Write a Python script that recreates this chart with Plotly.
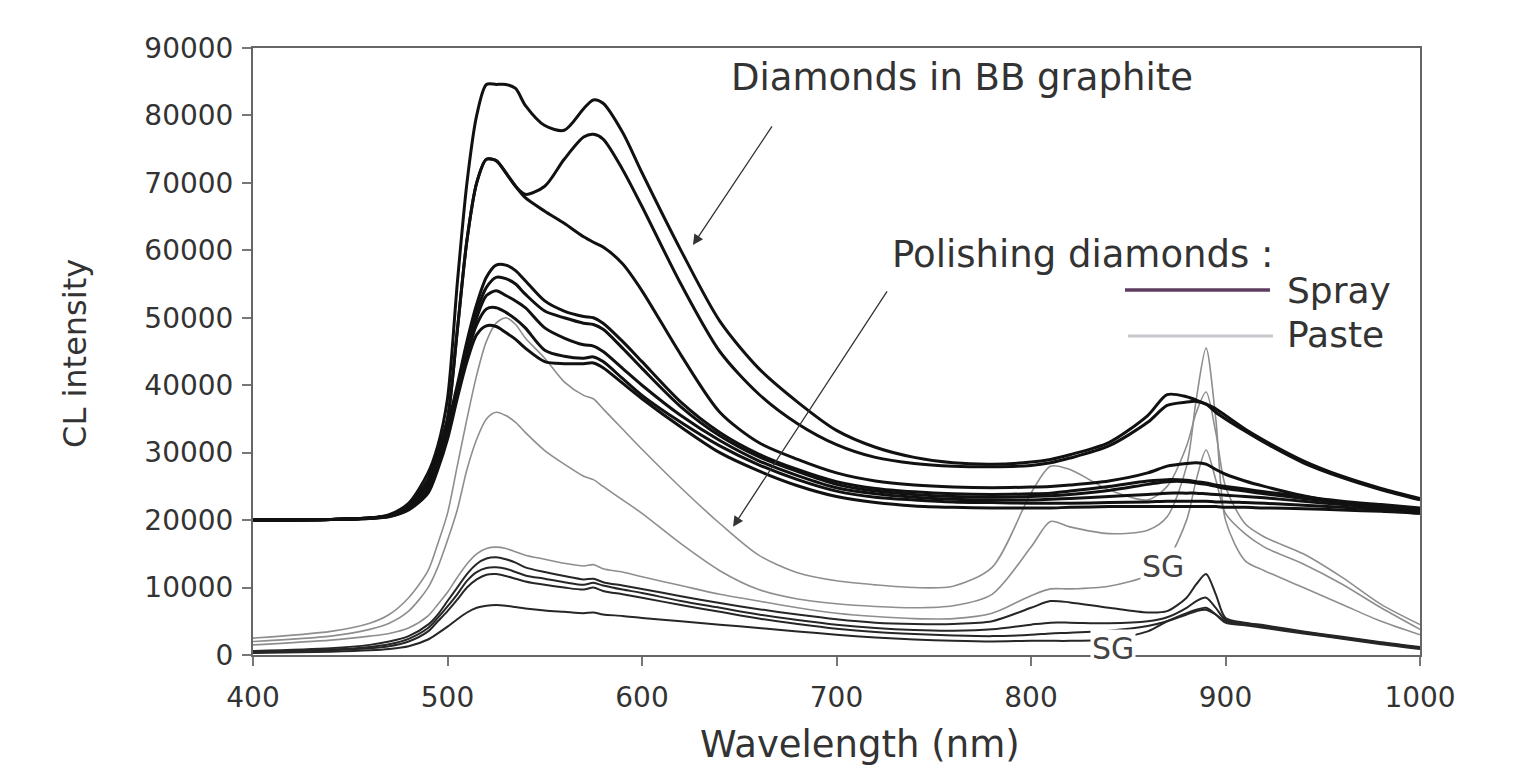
import plotly.graph_objects as go

# ---------------- data ----------------
wavelength = [400, 440, 460, 470, 480, 490, 495, 500, 505, 510,
              515, 520, 525, 530, 535, 540, 550, 560, 570, 575,
              580, 590, 600, 620, 640, 660, 680, 700, 720, 740,
              760, 780, 800, 810, 820, 840, 860, 870, 880, 885,
              890, 895, 900, 910, 920, 940, 960, 980, 1000]

# Diamonds in BB graphite (offset baseline ~20000)
bb_a = [20000, 20100, 20300, 20800, 22500, 27000, 31000, 38000, 55000, 70000,
        80000, 84600, 84600, 84600, 84000, 81500, 78500, 77800, 81000, 82300,
        81800, 77500, 71500, 60000, 49500, 42500, 37500, 33300, 30800, 29300,
        28500, 28300, 28600, 29000, 29700, 31500, 35500, 38600, 38300, 37800,
        37200, 36500, 35500, 33500, 31800, 28800, 26500, 24700, 23200]
bb_b = [20000, 20100, 20300, 20700, 22000, 26000, 30000, 35000, 48000, 61500,
        70000, 73500, 73300, 71500, 69500, 68300, 69500, 73500, 76800, 77200,
        76500, 72000, 66500, 55000, 45000, 38700, 34300, 31200, 29300, 28400,
        28000, 27900, 28100, 28500, 29200, 31000, 34500, 37000, 37500, 37600,
        37200, 36000, 35000, 33200, 31500, 28500, 26300, 24500, 23000]
bb_c = [20000, 20100, 20300, 20700, 22000, 26000, 30000, 35000, 48000, 61500,
        70000, 73500, 73300, 71500, 69500, 67800, 65800, 64000, 62000, 61200,
        60500, 58000, 54000, 44500, 36000, 31500, 29000, 27000, 25800, 25200,
        24900, 24800, 24900, 25000, 25200, 25800, 27000, 28000, 28400, 28500,
        28300, 27500, 26800, 25800, 25000, 23600, 22500, 21700, 21000]
bb_d1 = [20000, 20100, 20300, 20700, 22200, 26000, 29500, 34000, 40000, 46500,
         52000, 56000, 57800, 57800, 57000, 55500, 52500, 51000, 50200, 50000,
         49200, 46500, 43500, 37500, 33000, 29800, 27500, 25700, 24700, 24200,
         23900, 23800, 23900, 24000, 24300, 25000, 25800, 26000, 25900, 25700,
         25500, 25200, 25000, 24600, 24200, 23500, 22800, 22300, 21800]
bb_d2 = [20000, 20100, 20300, 20650, 22000, 25500, 29000, 33500, 39500, 46000,
         51000, 54500, 56000, 55800, 55000, 53500, 51000, 50000, 49200, 49000,
         48300, 45500, 42500, 36800, 32500, 29400, 27200, 25300, 24300, 23800,
         23500, 23400, 23500, 23600, 23800, 24400, 25300, 25700, 25700, 25500,
         25300, 25000, 24700, 24300, 23900, 23200, 22600, 22100, 21600]
bb_d3 = [20000, 20100, 20300, 20600, 21800, 25000, 28500, 33000, 39000, 45000,
         50000, 53300, 54000, 53300, 52500, 51500, 48500, 47000, 46000, 45800,
         45000, 42500, 40000, 35500, 31800, 28800, 26600, 24800, 23900, 23400,
         23100, 23000, 23000, 23100, 23200, 23500, 23800, 24000, 24000, 24000,
         23900, 23800, 23700, 23500, 23300, 22800, 22300, 21900, 21400]
bb_d4 = [20000, 20100, 20250, 20550, 21600, 24500, 28000, 32500, 38500, 44500,
         49000, 51300, 51500, 50800, 49800, 48500, 45200, 44300, 44000, 44200,
         43500, 41000, 38500, 34500, 31000, 28200, 26000, 24300, 23400, 23000,
         22700, 22600, 22500, 22500, 22500, 22600, 22700, 22800, 22800, 22800,
         22800, 22700, 22700, 22600, 22500, 22200, 21900, 21600, 21200]
bb_d5 = [20000, 20100, 20250, 20500, 21500, 24000, 27500, 32000, 38000, 43500,
         47500, 48800, 48700, 47800, 46800, 45500, 43500, 43200, 43200, 43300,
         42600, 40300, 38000, 33800, 30000, 27300, 25100, 23500, 22600, 22100,
         21900, 21800, 21800, 21800, 21900, 22000, 22000, 22000, 22000, 22000,
         22000, 22000, 21900, 21900, 21800, 21700, 21500, 21300, 21000]

# Polishing diamonds - paste (grey)
paste_1 = [2500, 3500, 4700, 6000, 8500, 12500, 16500, 21000, 28000, 35000,
           41500, 46500, 49200, 50000, 49000, 47000, 44000, 40500, 38500, 38000,
           36500, 33500, 30500, 24800, 19500, 14800, 12200, 11000, 10400, 10000,
           10200, 13000, 24000, 28000, 27500, 24500, 23000, 25000, 31000, 36000,
           39000, 33000, 25000, 19500, 17500, 15000, 11500, 7500, 4500]
paste_2 = [2000, 2800, 3800, 4700, 6500, 10000, 13000, 17000, 21500, 27500,
           32000, 35000, 36000, 35500, 34500, 33000, 30300, 28300, 26500, 26000,
           25000, 23000, 21000, 16500, 12500, 9700, 8300, 7600, 7200, 7000,
           7300, 9000, 16000, 19800, 19000, 18000, 18500, 20500, 28000, 38000,
           45500, 35000, 20000, 14000, 12500, 10000, 7500, 5000, 3000]
paste_3 = [1500, 2200, 2800, 3200, 4000, 5800, 7500, 9300, 11500, 13500,
           15000, 15800, 16000, 15800, 15300, 14800, 14200, 13600, 13200, 13400,
           12800, 12300, 11600, 10300, 9000, 8000, 7000, 6200, 5700, 5400,
           5400, 6200, 8800, 9800, 9800, 10200, 11800, 14000, 20000, 26000,
           30400, 26000, 21000, 18000, 16000, 13500, 10500, 7000, 3800]

# Polishing diamonds - spray (dark)
spray_1 = [600, 1000, 1500, 2000, 2800, 4500, 6000, 8000, 10000, 12000,
           13500, 14300, 14500, 14200, 13700, 13000, 12300, 11700, 11200, 11300,
           10800, 10300, 9800, 8700, 7700, 6800, 6000, 5300, 4800, 4600,
           4600, 5000, 7000, 8000, 7800, 7000, 6300, 6500, 8500, 10500,
           12000, 9000, 5500, 4800, 4400, 3500, 2700, 1900, 1200]
spray_2 = [500, 800, 1200, 1600, 2400, 4000, 5500, 7200, 9000, 11000,
           12300, 12900, 13000, 12800, 12300, 11800, 11300, 10800, 10400, 10700,
           10300, 9700, 9200, 8000, 7000, 6000, 5200, 4500, 4000, 3700,
           3600, 3800, 4500, 4800, 4800, 4700, 5000, 5600, 7000, 8000,
           8500, 7000, 5200, 4700, 4300, 3400, 2600, 1800, 1100]
spray_3 = [400, 700, 1000, 1300, 2000, 3500, 5000, 6500, 8200, 10000,
           11200, 11900, 12000, 11700, 11300, 10900, 10400, 10000, 9700, 10000,
           9500, 9000, 8500, 7400, 6400, 5400, 4600, 3900, 3400, 3100,
           2900, 2800, 3000, 3200, 3300, 3600, 4300, 5000, 6000, 6500,
           6700, 6000, 5000, 4600, 4200, 3300, 2500, 1700, 1000]
spray_4 = [300, 500, 700, 900, 1300, 2300, 3200, 4200, 5300, 6300,
           7000, 7300, 7400, 7300, 7100, 6900, 6600, 6400, 6200, 6300,
           6000, 5800, 5500, 5000, 4500, 4000, 3500, 3000, 2600, 2300,
           2100, 2000, 2100, 2100, 2100, 2300, 3500, 5000, 6200, 6700,
           7000, 6000, 4800, 4400, 4000, 3200, 2400, 1600, 900]

x_ticks = [400, 500, 600, 700, 800, 900, 1000]
y_ticks = [0, 10000, 20000, 30000, 40000, 50000, 60000, 70000, 80000, 90000]
y_tick_labels = [str(v) for v in y_ticks]

# ---------------- figure ----------------
FONT = "DejaVu Sans, Liberation Sans, Arial, sans-serif"
TXT = "#333333"

fig = go.Figure()

paste = [paste_1, paste_2, paste_3]
spray = [spray_1, spray_2, spray_3, spray_4]
bb = [bb_a, bb_b, bb_c, bb_d1, bb_d2, bb_d3, bb_d4, bb_d5]

for s in paste:
    fig.add_trace(go.Scatter(x=wavelength, y=s, mode="lines",
                             line=dict(color="#8e8e8e", width=1.6, shape="spline", smoothing=0.8),
                             showlegend=False, hoverinfo="skip"))
for s in spray:
    fig.add_trace(go.Scatter(x=wavelength, y=s, mode="lines",
                             line=dict(color="#262626", width=2, shape="spline", smoothing=0.8),
                             showlegend=False, hoverinfo="skip"))
for s in bb:
    fig.add_trace(go.Scatter(x=wavelength, y=s, mode="lines",
                             line=dict(color="#111111", width=3, shape="spline", smoothing=0.8),
                             showlegend=False, hoverinfo="skip"))

annotations = [
    dict(text="Diamonds in BB graphite", xref="paper", yref="paper", x=0.6075, y=0.9506,
         xanchor="center", yanchor="middle", showarrow=False, font=dict(size=37, color=TXT, family=FONT)),
    dict(text="Polishing diamonds :", xref="paper", yref="paper", x=0.7104, y=0.659,
         xanchor="center", yanchor="middle", showarrow=False, font=dict(size=37, color=TXT, family=FONT)),
    dict(text="Spray", xref="paper", yref="paper", x=0.8843, y=0.6013,
         xanchor="left", yanchor="middle", showarrow=False, font=dict(size=36, color=TXT, family=FONT)),
    dict(text="Paste", xref="paper", yref="paper", x=0.8843, y=0.5272,
         xanchor="left", yanchor="middle", showarrow=False, font=dict(size=36, color=TXT, family=FONT)),
    dict(text="SG", xref="paper", yref="paper", x=0.7798, y=0.145,
         xanchor="center", yanchor="middle", showarrow=False, bgcolor="white",
         font=dict(size=30, color="#444444", family=FONT)),
    dict(text="SG", xref="paper", yref="paper", x=0.737, y=0.0115,
         xanchor="center", yanchor="middle", showarrow=False, bgcolor="white",
         font=dict(size=30, color="#444444", family=FONT)),
    # arrows
    dict(text="", x=626.2, y=60800, xref="x", yref="y", ax=80, ay=-120,
         showarrow=True, arrowhead=2, arrowsize=1.6, arrowwidth=1.3, arrowcolor="#333333", standoff=0),
    dict(text="", x=646.8, y=19000, xref="x", yref="y", ax=155, ay=-237,
         showarrow=True, arrowhead=2, arrowsize=1.6, arrowwidth=1.3, arrowcolor="#333333", standoff=0),
    # axis titles
    dict(text="CL intensity", xref="paper", yref="paper", x=-0.152, y=0.497, textangle=-90,
         xanchor="center", yanchor="middle", showarrow=False, font=dict(size=32, color=TXT, family=FONT)),
    dict(text="Wavelength (nm)", xref="paper", yref="paper", x=0.52, y=-0.148,
         xanchor="center", yanchor="middle", showarrow=False, font=dict(size=37, color=TXT, family=FONT)),
]

shapes = [
    dict(type="line", xref="paper", yref="paper", x0=0.7472, x1=0.8715, y0=0.6013, y1=0.6013,
         line=dict(color="#5e3c60", width=3.5)),
    dict(type="line", xref="paper", yref="paper", x0=0.7498, x1=0.874, y0=0.5255, y1=0.5255,
         line=dict(color="#c4c8cd", width=3)),
]

fig.update_layout(
    width=1537, height=772,
    margin=dict(l=253, r=117, t=48, b=117),
    paper_bgcolor="white", plot_bgcolor="white",
    showlegend=False,
    annotations=annotations,
    shapes=shapes,
    font=dict(family=FONT, color=TXT),
)
fig.update_xaxes(range=[400, 1000], tickvals=x_ticks, ticks="outside", ticklen=9,
                 tickcolor="#777777", tickwidth=1.5, showline=True, linecolor="#666666",
                 linewidth=2, mirror=True, showgrid=False, zeroline=False,
                 tickfont=dict(size=28, color=TXT, family=FONT), ticklabelstandoff=7)
fig.update_yaxes(range=[0, 90000], tickvals=y_ticks, ticktext=y_tick_labels, ticks="outside",
                 ticklen=9, tickcolor="#777777", tickwidth=1.5, showline=True,
                 linecolor="#666666", linewidth=2, mirror=True, showgrid=False, zeroline=False,
                 tickfont=dict(size=28, color=TXT, family=FONT), ticklabelstandoff=3)

fig.write_html("out.html", config={"displayModeBar": False},
               post_script="document.body.style.margin='0';document.body.style.overflow='hidden';")
